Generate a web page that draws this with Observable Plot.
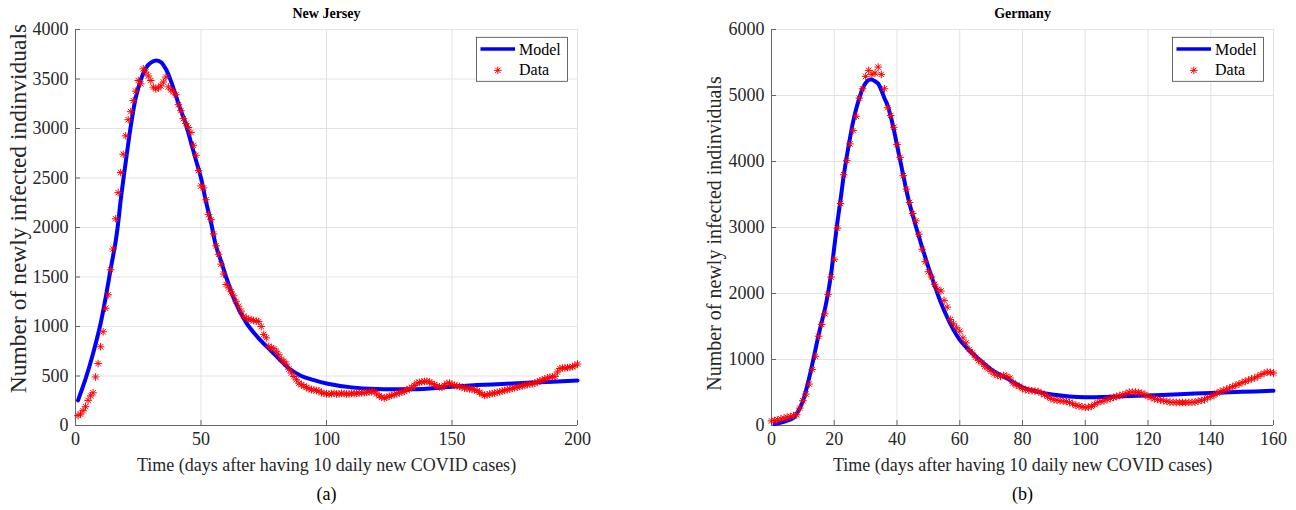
<!DOCTYPE html>
<html>
<head>
<meta charset="utf-8">
<script src="https://cdn.jsdelivr.net/npm/d3@7"></script>
<script src="https://cdn.jsdelivr.net/npm/@observablehq/plot@0.6"></script>
<style>
html, body { margin: 0; padding: 0; background: #fff; }
#wrap { display: flex; width: 1296px; height: 510px; background: #fff; }
</style>
</head>
<body>
<div id="wrap"></div>
<script>
// ---------- texts ----------
const njTitle = "New Jersey";
const deTitle = "Germany";
const njTag = "(a)";
const deTag = "(b)";
const xLabel = "Time (days after having 10 daily new COVID cases)";
const yLabel = "Number of newly infected indinviduals";
const legendLabels = ["Model", "Data"];

// ---------- ticks ----------
const njXTicks = [0, 50, 100, 150, 200];
const njYTicks = [0, 500, 1000, 1500, 2000, 2500, 3000, 3500, 4000];
const deXTicks = [0, 20, 40, 60, 80, 100, 120, 140, 160];
const deYTicks = [0, 1000, 2000, 3000, 4000, 5000, 6000];

// ---------- New Jersey daily data (day 1 .. 200) ----------
const njFirstDay = 1;
const njData = [
  100, 115, 150, 190, 254, 300, 330, 490, 626, 795,
  947, 1184, 1320, 1573, 1783, 2088, 2352, 2555, 2740, 2926,
  3089, 3170, 3282, 3377, 3485, 3451, 3603, 3570, 3530, 3485,
  3418, 3400, 3410, 3430, 3470, 3519, 3420, 3390, 3370, 3340,
  3240, 3180, 3100, 3050, 3010, 2960, 2830, 2730, 2575, 2420,
  2400, 2280, 2130, 2080, 1935, 1815, 1730, 1630, 1530, 1425,
  1390, 1350, 1310, 1255, 1205, 1155, 1105, 1085, 1070, 1070,
  1060, 1055, 1050, 1000, 920, 885, 800, 785, 775, 750,
  715, 670, 648, 620, 570, 530, 495, 462, 428, 412,
  398, 385, 372, 362, 360, 352, 350, 330, 325, 320,
  318, 322, 325, 318, 320, 325, 322, 318, 320, 325,
  322, 325, 328, 330, 332, 335, 338, 340, 344, 320,
  300, 285, 277, 285, 295, 305, 311, 320, 330, 338,
  344, 360, 372, 385, 405, 428, 435, 440, 445, 446,
  440, 425, 412, 400, 390, 385, 405, 425, 428, 415,
  405, 400, 395, 385, 378, 375, 370, 365, 361, 350,
  335, 315, 304, 310, 318, 322, 327, 335, 340, 348,
  355, 361, 368, 375, 382, 388, 395, 400, 405, 412,
  418, 422, 428, 440, 450, 460, 470, 479, 488, 492,
  496, 540, 575, 580, 582, 585, 587, 595, 605, 621
];

// ---------- New Jersey model curve (read points) ----------
const njModelDays = [1, 4, 7, 10, 12, 14, 16, 17, 18, 20, 22, 24, 26, 28, 30, 32, 34, 36, 38, 40,
  42, 44, 46, 48, 50, 52, 54, 56, 58, 60, 64, 68, 73, 78, 85, 90, 95, 100, 110,
  120, 130, 140, 150, 160, 170, 180, 190, 200];
const njModelValues = [254, 470, 728, 1030, 1290, 1580, 1860, 2047, 2275, 2660, 3020, 3310, 3490, 3610, 3665, 3687, 3670, 3600, 3480, 3330,
  3180, 3040, 2860, 2680, 2500, 2260, 2050, 1810, 1660, 1500, 1230, 1040, 880, 752, 578, 500, 458, 425, 385,
  368, 366, 372, 392, 408, 420, 432, 443, 455];

// ---------- Germany daily data (day 0 .. 160) ----------
const deFirstDay = 0;
const deData = [
  70, 75, 87, 100, 111, 125, 137, 150, 162, 263,
  375, 476, 628, 847, 1049, 1353, 1531, 1692, 1987, 2250,
  2519, 2990, 3364, 3800, 4013, 4267, 4469, 4686, 4960, 5102,
  5290, 5381, 5320, 5340, 5431, 5320, 5102, 4814, 4697, 4519,
  4256, 4063, 3785, 3583, 3379, 3212, 3101, 2898, 2670, 2482,
  2330, 2250, 2139, 2063, 2037, 1895, 1794, 1607, 1540, 1480,
  1429, 1327, 1251, 1151, 1099, 1034, 983, 947, 897, 860,
  821, 781, 760, 745, 760, 745, 719, 643, 610, 593,
  560, 543, 535, 527, 522, 517, 490, 467, 440, 410,
  391, 383, 375, 370, 365, 350, 330, 304, 295, 285,
  274, 280, 289, 320, 350, 365, 375, 395, 410, 426,
  440, 455, 467, 485, 506, 506, 506, 500, 491, 470,
  441, 425, 406, 395, 385, 375, 365, 354, 352, 350,
  350, 350, 350, 350, 352, 354, 370, 380, 391, 420,
  440, 456, 490, 517, 530, 550, 567, 590, 608, 630,
  650, 669, 690, 705, 719, 745, 771, 790, 810, 805,
  795
];

// ---------- Germany model curve (read points) ----------
const deModelDays = [1, 3, 5, 7, 9, 10, 11, 12, 13, 14, 15, 16, 17, 18, 19, 20, 21, 22, 23, 24,
  25, 26, 27, 28, 29, 30, 31, 32, 33, 34, 35, 36, 37, 38, 39, 40, 41, 42, 43, 44,
  45, 46, 47, 48, 49, 50, 52, 54, 56, 58, 60, 63, 66, 70, 75, 80, 85, 90, 95, 100,
  105, 110, 120, 130, 140, 150, 160];
const deModelValues = [20, 45, 75, 115, 260, 370, 530, 720, 930, 1150, 1370, 1570, 1760, 2000, 2300, 2700, 3080, 3420, 3780, 4080,
  4350, 4600, 4800, 4960, 5100, 5190, 5235, 5240, 5215, 5180, 5080, 4960, 4850, 4680, 4480, 4250, 4020, 3790, 3560, 3360,
  3190, 3020, 2860, 2700, 2550, 2400, 2120, 1860, 1640, 1450, 1300, 1140, 1010, 850, 715, 580, 510, 465, 440, 428,
  430, 440, 456, 474, 492, 510, 527];

// ---------- styling ----------
const FONT = '"Liberation Serif", "Times New Roman", Times, serif';
const BLUE = "#0000ff";
const RED = "#ff0000";
const GRID = "#e3e3e3";
const AXIS = "#666666";

// MATLAB-like 8-arm asterisk
const asterisk8 = {
  draw(ctx, size) {
    const r = Math.sqrt(size / Math.PI);
    const d = r * Math.SQRT1_2;
    ctx.moveTo(0, -r); ctx.lineTo(0, r);
    ctx.moveTo(-r, 0); ctx.lineTo(r, 0);
    ctx.moveTo(-d, -d); ctx.lineTo(d, d);
    ctx.moveTo(-d, d); ctx.lineTo(d, -d);
  }
};

function panel(cfg) {
  const W = 648, H = 510, mt = 29, mb = 85;
  const {mLeft, mRight, xDomain, yDomain, xTicks, yTicks} = cfg;
  const frameW = W - mLeft - mRight, frameH = H - mt - mb;
  const tickLenY = 5 * (yDomain[1] - yDomain[0]) / frameH;
  const tickLenX = 5 * (xDomain[1] - xDomain[0]) / frameW;
  const data = cfg.values.map((v, i) => ({day: cfg.firstDay + i, value: v}));
  const model = cfg.mDays.map((d, i) => ({day: d, value: cfg.mValues[i]}));

  const svg = Plot.plot({
    width: W, height: H,
    marginLeft: mLeft, marginRight: mRight, marginTop: mt, marginBottom: mb,
    style: {fontFamily: FONT, fontSize: "18px", background: "#fff", color: "#262626"},
    x: {domain: xDomain},
    y: {domain: yDomain},
    marks: [
      Plot.gridX(xTicks, {stroke: GRID, strokeOpacity: 1}),
      Plot.gridY(yTicks, {stroke: GRID, strokeOpacity: 1}),
      Plot.ruleX([xDomain[0]], {stroke: AXIS}),
      Plot.ruleY([yDomain[0]], {stroke: AXIS}),
      Plot.ruleX(xTicks, {x: d => d, y1: yDomain[0], y2: yDomain[0] + tickLenY, stroke: AXIS}),
      Plot.ruleY(yTicks, {y: d => d, x1: xDomain[0], x2: xDomain[0] + tickLenX, stroke: AXIS}),
      Plot.axisX({ticks: xTicks, tickSize: 0, tickPadding: 7, label: null, fontSize: 18, tickFormat: d => String(d)}),
      Plot.axisY({ticks: yTicks, tickSize: 0, tickPadding: 7, label: null, fontSize: 18, tickFormat: d => String(d)}),
      Plot.line(model, {x: "day", y: "value", stroke: BLUE, strokeWidth: 4, curve: "catmull-rom"}),
      Plot.dot(data, {x: "day", y: "value", symbol: asterisk8, r: 3.8, stroke: RED, fill: "none", strokeWidth: 1}),
      Plot.text([cfg.title], {text: d => d, frameAnchor: "top", lineAnchor: "middle", dy: -16, fontWeight: "bold", fontSize: 14, fill: "#000"}),
      Plot.text([xLabel], {text: d => d, frameAnchor: "bottom", dy: 45, fontSize: 18, fill: "#262626"}),
      Plot.text([cfg.tag], {text: d => d, frameAnchor: "bottom", dy: 74, fontSize: 18, fill: "#000"}),
      Plot.text([yLabel], {text: d => d, frameAnchor: "left", textAnchor: "middle", lineAnchor: "middle", rotate: -90, dx: -57, dy: cfg.yLabelDy, fontSize: cfg.yLabelSize, fill: "#262626"})
    ]
  });

  // legend (top-right, inside the frame)
  const bw = 91, bh = 44;
  const bx = W - mRight - 9.5 - bw, by = mt + 8.3;
  const g = d3.select(svg).append("g").attr("font-family", FONT).attr("font-size", 16)
    .attr("fill", "#000").attr("text-anchor", "start");
  g.append("rect").attr("x", bx).attr("y", by).attr("width", bw).attr("height", bh)
    .attr("fill", "#fff").attr("stroke", "#444").attr("stroke-width", 0.8);
  g.append("line").attr("x1", bx + 4).attr("x2", bx + 38.5).attr("y1", by + 11.7).attr("y2", by + 11.7)
    .attr("stroke", BLUE).attr("stroke-width", 3.5);
  g.append("text").attr("x", bx + 42.5).attr("y", by + 17.7).text(legendLabels[0]);
  const sx = bx + 21.3, sy = by + 33, r = 3.8, d = r * Math.SQRT1_2;
  g.append("path").attr("transform", `translate(${sx},${sy})`)
    .attr("d", `M0,${-r}L0,${r}M${-r},0L${r},0M${-d},${-d}L${d},${d}M${-d},${d}L${d},${-d}`)
    .attr("stroke", RED).attr("fill", "none").attr("stroke-width", 1);
  g.append("text").attr("x", bx + 42.5).attr("y", by + 37.7).text(legendLabels[1]);
  return svg;
}

const wrap = document.getElementById("wrap");
wrap.appendChild(panel({
  title: njTitle, tag: njTag, firstDay: njFirstDay, values: njData,
  mDays: njModelDays, mValues: njModelValues,
  xDomain: [0, 200], yDomain: [0, 4000], xTicks: njXTicks, yTicks: njYTicks,
  mLeft: 75, mRight: 71, yLabelSize: 23.5, yLabelDy: -19
}));
wrap.appendChild(panel({
  title: deTitle, tag: deTag, firstDay: deFirstDay, values: deData,
  mDays: deModelDays, mValues: deModelValues,
  xDomain: [0, 160], yDomain: [0, 6000], xTicks: deXTicks, yTicks: deYTicks,
  mLeft: 123, mRight: 23, yLabelSize: 20, yLabelDy: 6
}));
</script>
</body>
</html>
